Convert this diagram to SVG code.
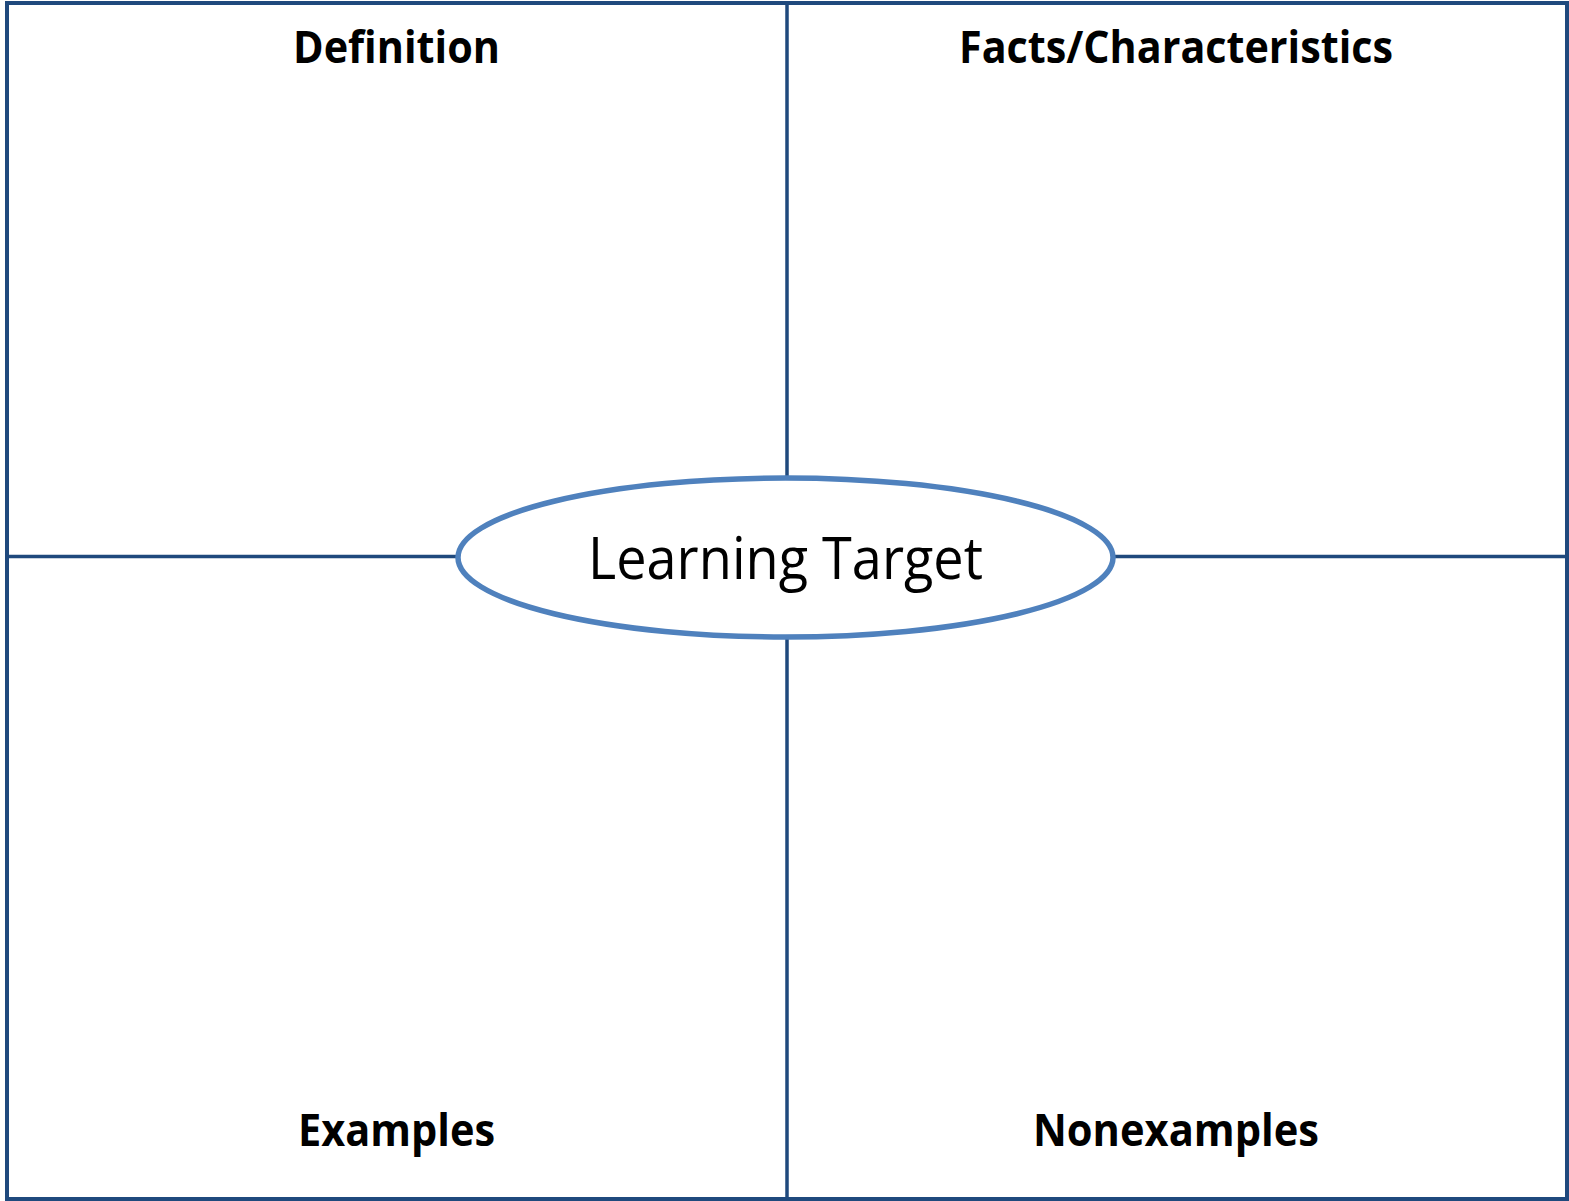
<svg xmlns="http://www.w3.org/2000/svg" width="1569" height="1201" viewBox="0 0 1569 1201">
  <style>
    .frame { fill: none; stroke: #1F497D; stroke-width: 4; }
    .rule { stroke: #1F497D; stroke-width: 3.5; fill: none; }
    .hub { fill: #FFFFFF; stroke: #4F81BD; stroke-width: 5.5; }
    .head { font-family: "Open Sans", "Liberation Sans", sans-serif; font-weight: bold; font-size: 44px; fill: #000000; text-anchor: middle; }
    .hub-label { font-family: "Open Sans", "Liberation Sans", sans-serif; font-size: 59px; fill: #000000; text-anchor: middle; }
  </style>
  <rect width="1569" height="1201" fill="#FFFFFF"/>
  <g id="connectors">
    <line class="rule" x1="787" y1="3" x2="787" y2="480"/>
    <line class="rule" x1="787" y1="636" x2="787" y2="1199"/>
    <line class="rule" x1="7" y1="556.5" x2="458" y2="556.5"/>
    <line class="rule" x1="1113" y1="556.5" x2="1567" y2="556.5"/>
  </g>
  <g id="frame">
    <rect class="frame" x="7" y="3" width="1560" height="1196"/>
  </g>
  <g id="definition">
    <text class="head" x="396.5" y="63" textLength="207" lengthAdjust="spacingAndGlyphs">Definition</text>
  </g>
  <g id="facts">
    <text class="head" x="1176" y="63" textLength="434" lengthAdjust="spacingAndGlyphs">Facts/Characteristics</text>
  </g>
  <g id="examples">
    <text class="head" x="396.5" y="1146" textLength="197" lengthAdjust="spacingAndGlyphs">Examples</text>
  </g>
  <g id="nonexamples">
    <text class="head" x="1176" y="1146" textLength="286" lengthAdjust="spacingAndGlyphs">Nonexamples</text>
  </g>
  <g id="learning-target">
    <ellipse class="hub" cx="785.5" cy="557.5" rx="327.5" ry="79.5"/>
    <text class="hub-label" x="785.5" y="579" textLength="395" lengthAdjust="spacingAndGlyphs">Learning Target</text>
  </g>
</svg>
